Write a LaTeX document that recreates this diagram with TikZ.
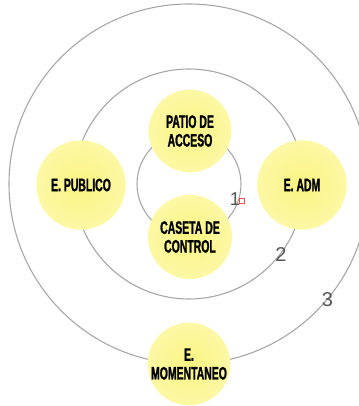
\documentclass[tikz,border=0pt]{standalone}
\usepackage{fontspec}
\newfontfamily\lblfont[FakeStretch=0.58,FakeBold=1.2]{Liberation Sans}
\newfontfamily\numfont{Liberation Sans}
\definecolor{ringgray}{RGB}{165,165,165}
\definecolor{zonein}{RGB}{250,244,130}
\definecolor{zoneout}{RGB}{252,248,165}
\definecolor{numgray}{RGB}{85,85,85}
\definecolor{markred}{RGB}{235,80,80}
\begin{document}
\begin{tikzpicture}[x=0.75pt,y=-0.75pt,
  ring/.style={draw=ringgray, line width=0.8pt},
  zone/.style={circle, inner color=zonein, outer color=zoneout, inner sep=0pt, align=center,
    font=\lblfont\bfseries\fontsize{13.5}{14}\selectfont},
  num/.style={font=\numfont\fontsize{15}{15}\selectfont, text=numgray, inner sep=0pt},
  handle/.style={draw=markred, line width=0.5pt, minimum size=3.6pt, inner sep=0pt}]
\useasboundingbox (0,0) rectangle (359,406);
\fill[white] (0,0) rectangle (359,406);
\coordinate (c) at (189,184);
\draw[ring] (c) circle[radius=52];
\draw[ring] (c) circle[radius=115];
\draw[ring] (c) circle[radius=180];
\node[zone, minimum size=62pt] (patio) at (190,131) {PATIO DE\\ACCESO};
\node[zone, minimum size=63pt] (caseta) at (190,237) {CASETA DE\\CONTROL};
\node[zone, minimum size=67pt] (publico) at (81,185) {E. PUBLICO};
\node[zone, minimum size=67pt] (adm) at (302,185) {E. ADM};
\node[zone, minimum size=62pt] (momentaneo) at (189,364) {E.\\MOMENTANEO};
\node[num, font=\numfont\fontsize{14}{14}\selectfont] (n1) at (235,199.5) {1};
\node[handle] (mark) at (241.5,200.5) {};
\node[num] (n2) at (281,254.5) {2};
\node[num] (n3) at (327.5,299.5) {3};
\end{tikzpicture}
\end{document}
